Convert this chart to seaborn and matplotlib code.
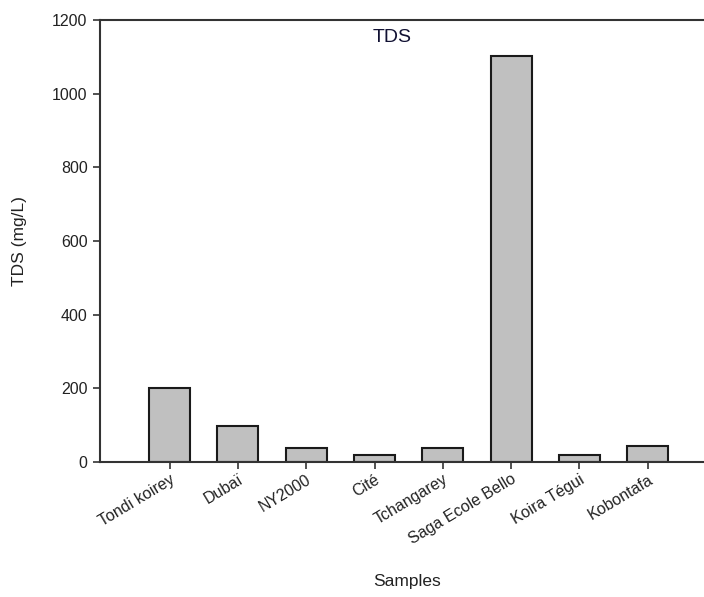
import matplotlib
matplotlib.use("Agg")
import matplotlib.pyplot as plt
import seaborn as sns
import pandas as pd

samples = ["Tondi koirey", "Dubaï", "NY2000", "Cité", "Tchangarey",
           "Saga Ecole Bello", "Koira Tégui", "Kobontafa"]
tds = [200, 98, 37, 20, 39, 1103, 20, 44]
y_ticks = [0, 200, 400, 600, 800, 1000, 1200]

sns.set_theme(style="white")
plt.rcParams["font.family"] = ["Liberation Sans", "DejaVu Sans"]

df = pd.DataFrame({"Samples": samples, "TDS": tds})

fig = plt.figure(figsize=(7.04, 5.97), dpi=100)
ax_px = 610
ax = fig.add_axes([100 / 704, 135 / 597, ax_px / 704, 442 / 597])

sns.barplot(data=df, x="Samples", y="TDS", color="#c0c0c0",
            edgecolor="#1a1a1a", linewidth=1.5, width=0.6,
            saturation=1, ax=ax)

step = 68.3
ax.set_xlim(-1.02, -1.02 + ax_px / step)
ax.set_ylim(0, 1200)
ax.set_yticks(y_ticks)
ax.set_yticklabels([str(v) for v in y_ticks], fontsize=11.5, color="#222222")
ax.set_xticks(range(len(samples)))
ax.set_xticklabels(samples, rotation=31, ha="right", rotation_mode="anchor",
                   fontsize=11.5, color="#222222")

for side in ["left", "bottom", "top"]:
    ax.spines[side].set_visible(True)
    ax.spines[side].set_linewidth(1.5)
    ax.spines[side].set_color("#333333")
ax.spines["right"].set_visible(False)

ax.tick_params(axis="both", direction="out", length=5, width=1.2,
               color="#333333", bottom=True, left=True, pad=4)
ax.tick_params(axis="x", pad=2)

ax.set_xlabel("Samples", fontsize=12.5, color="#222222")
ax.xaxis.set_label_coords((407 - 100) / ax_px, (462 - 574) / 442)
ax.set_ylabel("TDS (mg/L)", fontsize=12.5, color="#222222", labelpad=18)

fig.text(392 / 704, 1 - 38 / 597, "TDS", ha="center", va="center",
         fontsize=14, color="#111133")

fig.savefig("out.png", dpi=100)
